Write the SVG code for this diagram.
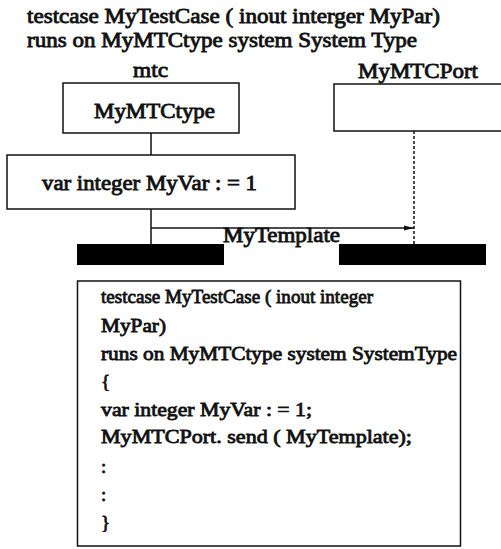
<svg xmlns="http://www.w3.org/2000/svg" width="501" height="549" viewBox="0 0 501 549">
<defs>
<style>
text{font-family:'Liberation Serif','Times New Roman',serif;font-weight:normal;fill:#111;stroke:#111;stroke-width:0.8;}
.t{font-size:20px;}
.b{font-size:19px;}
.box{fill:#fff;stroke:#111;stroke-width:1.5;}
.ln{stroke:#111;stroke-width:1.5;fill:none;}
.bar{fill:#000;}
</style>
<marker id="ah" markerWidth="10" markerHeight="6" refX="10" refY="3" orient="auto" markerUnits="userSpaceOnUse">
<path d="M0,0.5 L10,3 L0,5.5 Z" fill="#111"/>
</marker>
</defs>
<rect width="501" height="549" fill="#fff"/>
<g id="title">
<text class="t" x="27" y="23" textLength="413" lengthAdjust="spacingAndGlyphs">testcase MyTestCase ( inout interger MyPar)</text>
<text class="t" x="27" y="47" textLength="390" lengthAdjust="spacingAndGlyphs">runs on MyMTCtype system System Type</text>
</g>
<g id="connectors">
<line class="ln" x1="151" y1="133" x2="151" y2="155"/>
<line class="ln" x1="151" y1="209" x2="151" y2="244"/>
<line class="ln" x1="414" y1="131" x2="414" y2="244" stroke-dasharray="3,2"/>
<line class="ln" x1="151" y1="228" x2="414" y2="228" marker-end="url(#ah)"/>
<text class="t" x="223" y="242" textLength="117" lengthAdjust="spacingAndGlyphs">MyTemplate</text>
</g>
<g id="mtc">
<text class="t" x="133" y="77" textLength="35" lengthAdjust="spacingAndGlyphs">mtc</text>
<rect class="box" x="63" y="83" width="176" height="50"/>
<text class="t" x="94" y="118" textLength="121" lengthAdjust="spacingAndGlyphs">MyMTCtype</text>
</g>
<g id="port">
<text class="t" x="358" y="78" textLength="120" lengthAdjust="spacingAndGlyphs">MyMTCPort</text>
<rect class="box" x="334" y="84" width="175" height="47"/>
</g>
<g id="var">
<rect class="box" x="7" y="155" width="288" height="54"/>
<text class="t" x="42" y="190" textLength="215" lengthAdjust="spacingAndGlyphs">var integer MyVar : = 1</text>
</g>
<g id="bars">
<rect class="bar" x="77" y="244" width="147" height="21"/>
<rect class="bar" x="339" y="244" width="147" height="21"/>
</g>
<g id="code">
<rect class="box" x="77.5" y="281" width="383" height="265"/>
<text class="b" x="101" y="303" textLength="272" lengthAdjust="spacingAndGlyphs">testcase MyTestCase ( inout integer</text>
<text class="b" x="101" y="332" textLength="65" lengthAdjust="spacingAndGlyphs">MyPar)</text>
<text class="b" x="101" y="360" textLength="356" lengthAdjust="spacingAndGlyphs">runs on MyMTCtype system SystemType</text>
<text class="b" x="101" y="388">{</text>
<text class="b" x="101" y="416" textLength="211" lengthAdjust="spacingAndGlyphs">var integer MyVar : = 1;</text>
<text class="b" x="101" y="443" textLength="311" lengthAdjust="spacingAndGlyphs">MyMTCPort. send ( MyTemplate);</text>
<text class="b" x="101" y="473">:</text>
<text class="b" x="101" y="501">:</text>
<text class="b" x="101" y="529">}</text>
</g>
</svg>
